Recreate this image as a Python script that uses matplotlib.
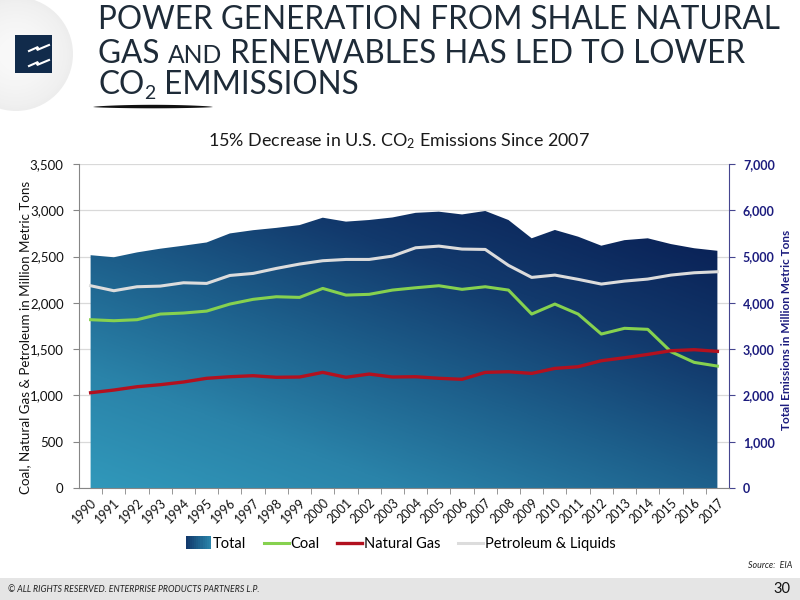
import numpy as np
import matplotlib
matplotlib.use("Agg")
import matplotlib.pyplot as plt
from matplotlib.colors import LinearSegmentedColormap
from matplotlib.patches import Rectangle, Polygon, Ellipse
from matplotlib.lines import Line2D
from matplotlib.legend_handler import HandlerBase
from matplotlib.ticker import StrMethodFormatter, FixedLocator

# ---------------- data ----------------
years = list(range(1990, 2018))
total = [5030, 4985, 5090, 5170, 5235, 5305, 5500, 5570, 5620, 5680,
         5840, 5755, 5790, 5845, 5945, 5970, 5910, 5985, 5790, 5395,
         5575, 5430, 5235, 5355, 5395, 5270, 5180, 5125]
coal = [1818, 1807, 1818, 1879, 1890, 1911, 1987, 2038, 2066, 2059,
        2156, 2084, 2092, 2138, 2163, 2185, 2146, 2174, 2138, 1879,
        1987, 1879, 1663, 1725, 1714, 1472, 1357, 1317]
natural_gas = [1029, 1058, 1094, 1116, 1145, 1185, 1202, 1213, 1196, 1199,
               1249, 1196, 1231, 1199, 1202, 1185, 1174, 1249, 1256, 1238,
               1292, 1310, 1375, 1407, 1443, 1483, 1494, 1476]
petroleum = [2185, 2131, 2174, 2181, 2217, 2210, 2296, 2318, 2372, 2419,
             2455, 2469, 2469, 2505, 2595, 2613, 2581, 2577, 2405, 2275,
             2300, 2254, 2203, 2235, 2257, 2300, 2325, 2336]
left_ticks = [0, 500, 1000, 1500, 2000, 2500, 3000, 3500]
right_ticks = [0, 1000, 2000, 3000, 4000, 5000, 6000, 7000]

plt.rcParams['font.family'] = ['Lato', 'DejaVu Sans']
plt.rcParams['mathtext.fontset'] = 'custom'
plt.rcParams['mathtext.rm'] = 'Lato'
plt.rcParams['mathtext.default'] = 'regular'

W, H = 800, 600
fig = plt.figure(figsize=(8, 6), dpi=100)
fig.patch.set_facecolor('white')
renderer = fig.canvas.get_renderer()

def fx(px):
    return px / W

def fy(py):
    return 1 - py / H

def bbox(t):
    return t.get_window_extent(renderer=renderer)

def fit(t, target, vertical=False):
    b = bbox(t)
    cur = b.height if vertical else b.width
    t.set_fontsize(t.get_fontsize() * target / cur)
    return t

# ---------------- header ----------------
n = 24
for i in range(n):
    r = 57 - 45 * i / n
    g = 0.93 + 0.045 * (i / n) ** 0.7
    fig.patches.append(Ellipse((fx(16), fy(54)), 2 * r / W, 2 * r / H,
                               transform=fig.transFigure, facecolor=(g, g, g),
                               edgecolor='none', zorder=0))
fig.patches.append(Rectangle((fx(15), fy(73)), (52 - 15) / W, (73 - 35) / H,
                             transform=fig.transFigure, facecolor='#112b4b',
                             edgecolor='none', zorder=1))
for yo in (46, 61):
    xs = [29, 38, 37, 49]
    ys = [yo + 5, yo + 1, yo + 4, yo - 1]
    fig.lines.append(Line2D([fx(v) for v in xs], [fy(v) for v in ys],
                            transform=fig.transFigure, color='white', lw=1.5,
                            solid_joinstyle='miter', zorder=2))

title_color = '#1e2b38'
probe = fig.text(fx(98), fy(29), 'POWER GENERATION FROM SHALE NATURAL', fontsize=24,
                 color=title_color, va='baseline', ha='left')
fit(probe, 780 - 98)
fs = probe.get_fontsize()

def run(pieces, x0, ybase):
    x = x0
    for s, scale, dy in pieces:
        t = fig.text(fx(x), fy(ybase + dy), s, fontsize=fs * scale,
                     color=title_color, va='baseline', ha='left')
        x += bbox(t).width
    return x

run([('GAS ', 1.0, 0), ('AND', 0.78, 0), (' RENEWABLES HAS LED TO LOWER', 1.0, 0)], 98, 63)
run([('CO', 1.0, 0), ('2', 0.62, 5), (' EMMISSIONS', 1.0, 0)], 98, 94)

# swoosh under title
xs = np.linspace(93, 213, 60)
th = 2.2 * np.sin(np.pi * (xs - 93) / 120) ** 0.6
top = [(fx(a), fy(107 - b)) for a, b in zip(xs, th)]
bot = [(fx(a), fy(107 + b * 0.6)) for a, b in zip(xs[::-1], th[::-1])]
fig.patches.append(Polygon(top + bot, closed=True, transform=fig.transFigure,
                           facecolor='#111111', edgecolor='none', zorder=2))

# chart subtitle
sub = fig.text(fx(399), fy(141), r'15% Decrease in U.S. CO$_{2}$ Emissions Since 2007',
               fontsize=12, color='#1a1a1a', ha='center', va='center')
fit(sub, 382)

# ---------------- axes ----------------
ax_left, ax_right, ax_top, ax_bot = 79, 729, 164, 488
ax2 = fig.add_axes([fx(ax_left), fy(ax_bot), (ax_right - ax_left) / W,
                    (ax_bot - ax_top) / H])
ax = fig.add_axes(ax2.get_position(), sharex=ax2)
ax2.yaxis.tick_right()

x0, x1 = years[0] - 0.5, years[-1] + 0.5

ax2.set_ylim(0, 7000)
ax2.set_yticks(right_ticks)
ax2.yaxis.grid(True, color='#d9d9d9', lw=0.9)
ax2.set_axisbelow(True)

cmap = LinearSegmentedColormap.from_list('tot', ['#3199bb', '#2a83a9', '#1d5f8b',
                                                 '#12396c', '#0a2257'])
u = np.linspace(0, 1, 400)
v = np.linspace(0, 1, 300)
U, V = np.meshgrid(u, v)
T = np.clip(0.5 * U + 0.68 * V, 0, 1)
fill = ax2.fill_between(years, total, 0, facecolor='none', edgecolor='none')
im = ax2.imshow(T, extent=[x0, x1, 0, 7000], origin='lower', cmap=cmap,
                aspect='auto', zorder=2, interpolation='bilinear')
im.set_clip_path(fill.get_paths()[0], transform=ax2.transData)
ax2.set_xlim(x0, x1)
ax2.set_ylim(0, 7000)

ax.set_zorder(ax2.get_zorder() + 1)
ax.patch.set_visible(False)
ax.plot(years, coal, color='#86d14f', lw=2.2, solid_joinstyle='round', zorder=3)
ax.plot(years, natural_gas, color='#b2111f', lw=2.4, solid_joinstyle='round', zorder=4)
ax.plot(years, petroleum, color='#dcdcdc', lw=2.2, solid_joinstyle='round', zorder=3)
ax.set_ylim(0, 3500)
ax.set_xlim(x0, x1)
ax.set_yticks(left_ticks)
ax.yaxis.set_major_formatter(StrMethodFormatter('{x:,.0f}'))
ax2.yaxis.set_major_formatter(StrMethodFormatter('{x:,.0f}'))

ax.set_xticks(years)
ax.set_xticklabels([str(y) for y in years], rotation=45, ha='right', va='top',
                   rotation_mode='anchor', fontsize=9, color='#111111')
ax.xaxis.set_minor_locator(FixedLocator([y + 0.5 for y in years[:-1]]))
ax.tick_params(axis='x', which='major', length=0, pad=6)
ax.tick_params(axis='x', which='minor', length=4, color='#868686', direction='out')
ax2.tick_params(axis='x', which='both', length=0, labelbottom=False)

ax.tick_params(axis='y', length=4, color='#868686', labelsize=9.5,
               labelcolor='#111111', pad=7)
ax2.tick_params(axis='y', length=4, color='#45458f', labelsize=9,
                labelcolor='#1c1c7e', pad=6)
for lab in ax2.get_yticklabels():
    lab.set_fontweight('bold')

for s in ['top', 'right']:
    ax.spines[s].set_visible(False)
for s in ['left', 'bottom']:
    ax.spines[s].set_color('#868686')
for s in ['top', 'left', 'bottom']:
    ax2.spines[s].set_visible(False)
ax2.spines['right'].set_color('#45458f')

yl = fig.text(fx(25), fy(337), 'Coal, Natural Gas & Petroleum in Million Metric Tons',
              rotation=90, ha='center', va='center', fontsize=9.5, color='#111111')
fit(yl, 314, vertical=True)
yr = fig.text(fx(786), fy(330), 'Total Emissions in Million Metric Tons',
              rotation=90, ha='center', va='center', fontsize=9.5, color='#1c1c7e',
              fontweight='bold')
fit(yr, 200, vertical=True)

# ---------------- legend ----------------
class GradientHandler(HandlerBase):
    def create_artists(self, legend, orig_handle, xdescent, ydescent, width,
                       height, fontsize, trans):
        arts = []
        k = 12
        for i in range(k):
            c = cmap(0.75 - 0.5 * i / (k - 1))
            arts.append(Rectangle((-xdescent + width * i / k, -ydescent - 1),
                                  width / k + 0.3, height + 2, facecolor=c,
                                  edgecolor='none', transform=trans))
        return arts

total_handle = Rectangle((0, 0), 1, 1)
handles = [total_handle,
           Line2D([], [], color='#86d14f', lw=2.2),
           Line2D([], [], color='#b2111f', lw=2.4),
           Line2D([], [], color='#dcdcdc', lw=2.2)]
labels = ['Total', 'Coal', 'Natural Gas', 'Petroleum & Liquids']
fig.legend(handles, labels, loc='center', bbox_to_anchor=(fx(401), fy(544)),
           ncol=4, frameon=False, fontsize=10.5, handlelength=1.7,
           handletextpad=0.15, columnspacing=1.2,
           handler_map={Rectangle: GradientHandler()})

src = fig.text(fx(792), fy(565), 'Source:  EIA', fontsize=6.5, style='italic',
               ha='right', va='center', color='#222222')
fit(src, 44)

# ---------------- footer ----------------
fig.patches.append(Rectangle((0, 0), 1, 22 / H, transform=fig.transFigure,
                             facecolor='#e5e5e5', edgecolor='none', zorder=0))
ft = fig.text(fx(8), fy(589), '\u00a9 ALL RIGHTS RESERVED. ENTERPRISE PRODUCTS PARTNERS L.P.',
              fontsize=7, style='italic', ha='left', va='center', color='#222222')
fit(ft, 252)
fig.text(fx(790), fy(589), '30', fontsize=10.5, ha='right', va='center',
         color='#111111')

fig.savefig('out.png', dpi=100)
